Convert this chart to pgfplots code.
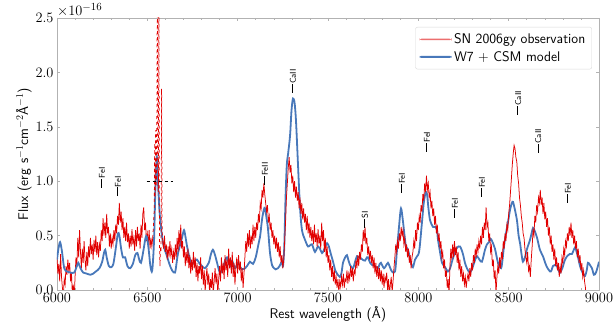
\documentclass[border=0pt]{standalone}
\usepackage{pgfplots}
\pgfplotsset{compat=1.18}
\definecolor{obsred}{RGB}{225,0,0}
\definecolor{legred}{RGB}{236,110,110}
\definecolor{modblue}{RGB}{72,120,186}
\newcommand{\lid}[1]{\rule[0.32em]{9bp}{0.8bp}#1}
\begin{document}
\begin{tikzpicture}
\begin{axis}[
  name=ax, scale only axis, width=542bp, height=272bp,
  xmin=6000, xmax=9000, ymin=0, ymax=2.5,
  xtick={6000,6500,...,9000}, ytick={0,0.5,...,2.5},
  minor x tick num=4,
  tick align=inside, major tick length=3bp, minor tick length=2bp,
  tick style={gray!60, line width=0.5bp},
  axis line style={gray!60, line width=0.8bp},
  tick label style={font=\fontsize{15}{15}\selectfont},
  xticklabel style={/pgf/number format/1000 sep={}},
  yticklabel style={/pgf/number format/.cd, fixed, fixed zerofill, precision=1},
  scaled y ticks=false,
  xlabel={\sffamily Rest wavelength (\AA)},
  ylabel={\sffamily Flux (erg s$^{-1}$cm$^{-2}$\AA$^{-1}$)},
  label style={font=\fontsize{14}{14}\selectfont},
  xlabel style={yshift=3bp},
  ylabel style={yshift=-3bp},
  legend cell align=left,
  legend style={at={(0.987,0.967)}, anchor=north east, draw=gray!30, rounded corners=2bp,
    font=\sffamily\fontsize{14}{20}\selectfont, inner xsep=4bp, inner ysep=4bp,
    row sep=1bp, nodes={inner sep=2.5bp}},
  clip mode=individual,
]
\addlegendimage{legend image code/.code={\fill[legred, draw=none] (0bp,-0.7bp) rectangle (32bp,0.7bp);}}
\addlegendentry{SN 2006gy observation}
\addplot[obsred, line width=0.75bp, forget plot] table {
6000 .30
6005 .15
6010 .24
6015 .08
6020 .33
6025 .12
6030 .02
6035 -.05
6040 .10
6045 .05
6050 .22
6055 .14
6060 .28
6065 .18
6070 .25
6075 .08
6080 .16
6085 -.04
6090 .05
6095 -.08
6100 .12
6105 .30
6110 .22
6115 .48
6120 .30
6125 .55
6130 .35
6135 .20
6140 .38
6145 .25
6150 .45
6155 .28
6160 .18
6165 .35
6170 .22
6175 .40
6180 .30
6185 .48
6190 .33
6195 .42
6200 .28
6205 .46
6210 .35
6215 .50
6220 .32
6225 .44
6230 .30
6235 .42
6240 .36
6245 .55
6250 .45
6255 .66
6260 .50
6265 .62
6270 .48
6275 .70
6280 .52
6285 .58
6290 .40
6295 .52
6300 .38
6305 .48
6310 .42
6315 .55
6320 .45
6325 .60
6330 .52
6335 .68
6340 .60
6345 .80
6350 .62
6355 .72
6360 .55
6365 .66
6370 .48
6375 .58
6380 .45
6385 .62
6390 .44
6395 .52
6400 .38
6405 .50
6410 .40
6415 .56
6420 .42
6425 .48
6430 .36
6435 .55
6440 .40
6445 .58
6450 .45
6455 .52
6460 .38
6465 .60
6470 .48
6475 .70
6480 .76
6485 .55
6490 .62
6495 .45
6500 .52
6505 .42
6510 .55
6515 .38
6520 .48
6525 .40
6530 .48
};
\addplot[modblue, line width=1.8bp, smooth, tension=0.5, legend image code/.code={\fill[modblue, draw=none] (0bp,-1.1bp) rectangle (32bp,1.1bp);}] table {
6000 .28
6008 .38
6017 .44
6027 .36
6040 .20
6055 .17
6075 .16
6095 .16
6110 .22
6118 .25
6130 .20
6145 .16
6165 .15
6185 .14
6200 .15
6215 .17
6235 .20
6250 .26
6260 .34
6267 .37
6275 .30
6287 .22
6300 .21
6312 .24
6325 .38
6337 .52
6345 .50
6355 .38
6365 .30
6377 .30
6390 .22
6405 .20
6420 .24
6433 .32
6445 .34
6455 .28
6465 .25
6478 .36
6490 .48
6497 .49
6507 .38
6517 .22
6527 .18
6537 .45
6545 .95
6553 1.22
6560 .95
6570 .67
6587 .43
6609 .31
6622 .24
6637 .18
6653 .16
6662 .25
6670 .34
6692 .48
6703 .55
6712 .48
6720 .40
6736 .28
6750 .24
6765 .27
6775 .28
6790 .24
6803 .22
6819 .20
6840 .25
6852 .33
6863 .37
6875 .32
6886 .25
6902 .16
6919 .20
6930 .27
6941 .30
6950 .25
6958 .22
6969 .27
6985 .20
7002 .25
7012 .22
7024 .19
7041 .20
7052 .22
7068 .26
7085 .24
7100 .30
7115 .42
7124 .49
7135 .65
7145 .74
7151 .75
7160 .66
7168 .56
7179 .34
7190 .23
7196 .21
7210 .19
7223 .20
7235 .23
7245 .26
7251 .22
7258 .40
7265 .85
7272 1.15
7279 1.25
7290 1.42
7298 1.65
7306 1.76
7315 1.72
7323 1.55
7334 1.15
7345 .76
7356 .55
7373 .46
7389 .40
7400 .41
7411 .42
7420 .38
7428 .35
7438 .38
7445 .40
7455 .38
7467 .34
7475 .36
7483 .39
7495 .43
7505 .40
7511 .36
7528 .26
7540 .18
7550 .15
7566 .12
7575 .16
7583 .25
7595 .30
7605 .32
7612 .28
7622 .23
7638 .20
7650 .26
7660 .31
7670 .30
7677 .30
7690 .28
7705 .27
7715 .30
7721 .30
7733 .25
7744 .23
7760 .22
7777 .20
7786 .24
7793 .25
7802 .22
7810 .20
7820 .22
7832 .25
7845 .20
7854 .17
7871 .17
7882 .37
7893 .58
7904 .75
7915 .63
7925 .48
7932 .40
7943 .37
7959 .25
7970 .21
7982 .28
7993 .31
8005 .36
8020 .62
8030 .80
8040 .89
8048 .88
8056 .75
8065 .64
8081 .58
8093 .58
8103 .55
8109 .46
8120 .35
8131 .25
8148 .21
8164 .17
8176 .20
8186 .26
8203 .35
8215 .39
8231 .40
8247 .33
8258 .25
8269 .20
8286 .16
8303 .22
8315 .28
8325 .31
8338 .28
8352 .26
8369 .37
8380 .42
8391 .44
8400 .47
8408 .45
8424 .38
8441 .25
8458 .20
8466 .28
8474 .40
8485 .52
8496 .62
8508 .74
8518 .80
8524 .81
8533 .75
8546 .64
8555 .50
8563 .43
8572 .32
8579 .26
8590 .30
8602 .38
8618 .46
8628 .53
8635 .57
8645 .54
8657 .48
8673 .37
8690 .31
8700 .26
8712 .21
8729 .17
8737 .18
8745 .22
8756 .23
8767 .22
8776 .18
8784 .16
8797 .20
8810 .27
8823 .31
8837 .33
8850 .33
8867 .39
8876 .35
8884 .30
8895 .22
8906 .17
8915 .14
8923 .13
8932 .18
8939 .25
8950 .23
8961 .20
8972 .14
8983 .16
8994 .22
9000 .26
};
\addlegendentry{W7 + CSM model}
\addplot[obsred, line width=0.75bp, dashed, forget plot] table {
6530 .48
6534 .60
6538 .72
6541 1.35
6543 .85
6546 1.47
6549 .95
6552 1.15
6555 2.8
6558 1.30
6561 .90
6564 2.8
6567 .45
6570 .22
6573 .40
6576 .35
6579 1.85
6582 .55
6585 .45
};
\addplot[obsred, line width=0.75bp, forget plot] table {
6585 .45
6590 .38
6595 .50
6600 .35
6605 .42
6610 .28
6615 .40
6620 .30
6625 .45
6630 .32
6635 .38
6640 .25
6645 .35
6650 .28
6655 .42
6660 .30
6665 .48
6670 .35
6675 .55
6680 .40
6685 .60
6690 .38
6695 .45
6700 .30
6705 .40
6710 .22
6715 .35
6720 .25
6725 .38
6730 .20
6735 .32
6740 .15
6745 .28
6750 .18
6755 .35
6760 .20
6765 .30
6770 .12
6775 .25
6780 .08
6785 .22
6790 .15
6795 .30
6800 .10
6805 .22
6810 .05
6815 .18
6820 -.02
6825 .12
6830 .20
6835 .05
6840 .15
6845 -.05
6850 .10
6855 .02
6860 .16
6865 -.03
6870 .08
6875 .20
6880 .06
6885 .15
6890 -.04
6895 .10
6900 .22
6905 .08
6910 .30
6915 .15
6920 .25
6925 .10
6930 .32
6935 .18
6940 .28
6945 .12
6950 .38
6955 .20
6960 .30
6965 .15
6970 .35
6975 .12
6980 .25
6985 .05
6990 .20
6995 .30
7000 .15
7005 .32
7010 .18
7015 .26
7020 .08
7025 .20
7030 .02
7035 .15
7040 .30
7045 .45
7050 .35
7055 .52
7060 .40
7065 .55
7070 .38
7075 .50
7080 .42
7085 .60
7090 .45
7095 .58
7100 .48
7105 .62
7110 .55
7115 .70
7120 .62
7125 .80
7130 .75
7135 .92
7140 .85
7145 .98
7150 .88
7155 .80
7160 .72
7165 .78
7170 .62
7175 .68
7180 .55
7185 .62
7190 .48
7195 .55
7200 .42
7205 .50
7210 .38
7215 .48
7220 .35
7225 .44
7230 .30
7235 .40
7240 .25
7245 .32
7250 .20
7255 .28
7260 .45
7265 .62
7270 .85
7275 .98
7280 1.12
7285 1.22
7290 1.08
7295 1.15
7300 .98
7305 1.05
7310 .90
7315 1.00
7320 .85
7325 .95
7330 .82
7335 .90
7340 .75
7345 .85
7350 .70
7355 .80
7360 .65
7365 .75
7370 .62
7375 .70
7380 .55
7385 .68
7390 .52
7395 .62
7400 .48
7405 .58
7410 .45
7415 .55
7420 .42
7425 .60
7430 .44
7435 .52
7440 .40
7445 .56
7450 .42
7455 .50
7460 .38
7465 .62
7470 .45
7475 .55
7480 .35
7485 .48
7490 .30
7495 .40
7500 .25
7505 .32
7510 .18
7515 .28
7520 .12
7525 .22
7530 .08
7535 .18
7540 .05
7545 .12
7550 .02
7555 .10
7560 -.02
7565 .08
7570 .03
7575 .12
7580 .05
7585 .15
7590 .02
7595 .10
7600 .08
7605 .18
7610 .06
7615 .15
7620 .10
7625 .22
7630 .12
7635 .20
7640 .08
7645 .18
7650 .15
7655 .28
7660 .20
7665 .32
7670 .22
7675 .35
7680 .28
7685 .42
7690 .35
7695 .55
7700 .45
7705 .58
7710 .42
7715 .48
7720 .32
7725 .40
7730 .28
7735 .36
7740 .25
7745 .32
7750 .20
7755 .30
7760 .15
7765 .25
7770 .12
7775 .22
7780 .10
7785 .20
7790 .08
7795 .18
7800 .05
7805 .15
7810 .02
7815 .12
7820 .08
7825 .16
7830 .00
7835 .10
7840 -.04
7845 .05
7850 .12
7855 -.02
7860 .08
7865 .20
7870 .30
7875 .42
7880 .35
7885 .45
7890 .38
7895 .52
7900 .45
7905 .58
7910 .50
7915 .55
7920 .42
7925 .48
7930 .35
7935 .42
7940 .30
7945 .38
7950 .25
7955 .32
7960 .20
7965 .30
7970 .35
7975 .45
7980 .38
7985 .55
7990 .45
7995 .62
8000 .55
8005 .68
8010 .62
8015 .78
8020 .72
8025 .88
8030 .82
8035 .98
8040 .90
8045 1.05
8050 .92
8055 .98
8060 .85
8065 .90
8070 .75
8075 .82
8080 .68
8085 .75
8090 .60
8095 .68
8100 .52
8105 .60
8110 .45
8115 .52
8120 .38
8125 .45
8130 .30
8135 .35
8140 .20
8145 .28
8150 .12
8155 .18
8160 .02
8165 .10
8170 -.05
8175 .22
8180 .38
8185 .28
8190 .42
8195 .30
8200 .45
8205 .32
8210 .40
8215 .25
8220 .35
8225 .18
8230 .28
8235 .12
8240 .22
8245 .08
8250 .15
8255 .05
8260 .12
8265 .02
8270 .10
8275 .15
8280 .08
8285 .20
8290 .12
8295 .25
8300 .18
8305 .32
8310 .25
8315 .38
8320 .30
8325 .42
8330 .35
8335 .45
8340 .38
8345 .50
8350 .42
8355 .58
8360 .48
8365 .62
8370 .55
8375 .76
8380 .58
8385 .62
8390 .45
8395 .52
8400 .35
8405 .40
8410 .22
8415 .28
8420 .10
8425 .18
8430 -.03
8435 .12
8440 .22
8445 .15
8450 .30
8455 .20
8460 .35
8465 .28
8470 .45
8475 .38
8480 .52
8485 .45
8490 .60
8495 .55
8500 .70
8505 .78
8510 .90
8515 1.02
8520 1.15
8525 1.25
8530 1.33
8535 1.30
8540 1.22
8545 1.18
8550 1.05
8555 .98
8560 .85
8565 .78
8570 .68
8575 .62
8580 .52
8585 .48
8590 .38
8595 .30
8600 .25
8605 .35
8610 .18
8615 .22
8620 .12
8625 .28
8630 .40
8635 .55
8640 .50
8645 .68
8650 .62
8655 .78
8660 .72
8665 .85
8670 .80
8675 .92
8680 .78
8685 .85
8690 .70
8695 .80
8700 .65
8705 .72
8710 .58
8715 .66
8720 .50
8725 .58
8730 .42
8735 .50
8740 .35
8745 .42
8750 .28
8755 .38
8760 .22
8765 .30
8770 .18
8775 .25
8780 .12
8785 .22
8790 .15
8795 .30
8800 .25
8805 .38
8810 .32
8815 .45
8820 .40
8825 .52
8830 .45
8835 .58
8840 .50
8845 .62
8850 .48
8855 .55
8860 .42
8865 .50
8870 .38
8875 .45
8880 .30
8885 .38
8890 .25
8895 .32
8900 .18
8905 .25
8910 .12
8915 .18
8920 .08
8925 .02
8930 -.08
};
\addplot[black, dashed, line width=0.6bp, forget plot] coordinates {(6496,1.0) (6644,1.0)};
\begin{scope}[every node/.style={rotate=90, anchor=west, inner sep=0pt, font=\sffamily\fontsize{8.5}{8.5}\selectfont}]
\node at (axis cs:6249,0.94) {\lid{FeI}};
\node at (axis cs:6338,0.86) {\lid{FeI}};
\node at (axis cs:7151,0.965) {\lid{FeII}};
\node at (axis cs:7306,1.81) {\lid{CaII}};
\node at (axis cs:7705,0.57) {\lid{SI}};
\node at (axis cs:7910,0.89) {\lid{FeI}};
\node at (axis cs:8048,1.27) {\lid{FeI}};
\node at (axis cs:8203,0.66) {\lid{FeI}};
\node at (axis cs:8352,0.855) {\lid{FeI}};
\node at (axis cs:8552,1.61) {\lid{CaII}};
\node at (axis cs:8663,1.26) {\lid{CaII}};
\node at (axis cs:8828,0.80) {\lid{FeI}};
\end{scope}
\end{axis}
\node[anchor=south west, inner sep=0pt, font=\fontsize{15}{15}\selectfont] at ([yshift=1bp]ax.north west) {$\times10^{-16}$};
\pgfresetboundingbox
\path[use as bounding box] ([shift={(-57bp,-36bp)}]ax.south west) rectangle ([shift={(16bp,18bp)}]ax.north east);
\end{tikzpicture}
\end{document}
